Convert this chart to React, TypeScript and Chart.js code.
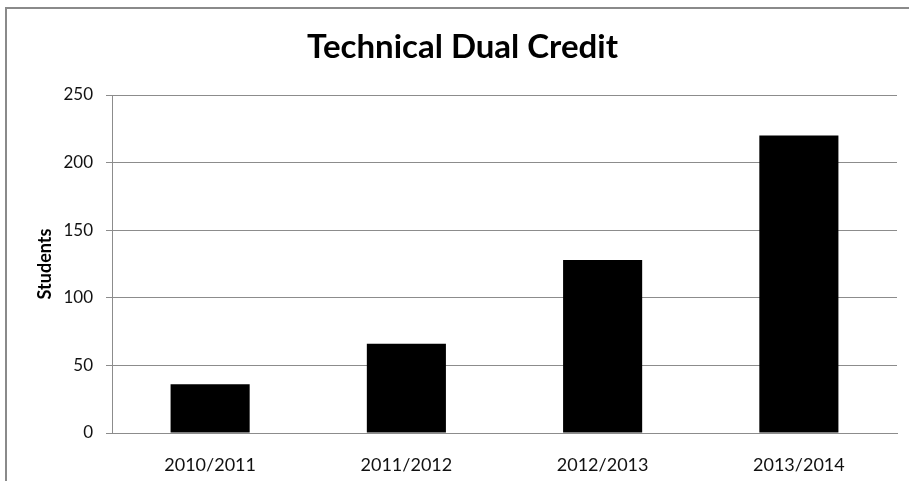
import React, { useEffect, useRef } from "react";
import { Chart, registerables } from "chart.js";

Chart.register(...registerables);

const categories = ["2010/2011", "2011/2012", "2012/2013", "2013/2014"];
const students = [36, 66, 128, 220];
const chartTitle = "Technical Dual Credit";
const yAxisTitle = "Students";
const yMin = 0;
const yMax = 250;
const yStep = 50;

const FONT = "Lato, 'Open Sans', sans-serif";

export default function App() {
  const canvasRef = useRef<HTMLCanvasElement | null>(null);

  useEffect(() => {
    if (!canvasRef.current) return;
    const chart = new Chart(canvasRef.current, {
      type: "bar",
      data: {
        labels: categories,
        datasets: [
          {
            label: yAxisTitle,
            data: students,
            backgroundColor: "#000000",
            borderWidth: 0,
            categoryPercentage: 1,
            barPercentage: 0.403,
          },
        ],
      },
      options: {
        responsive: false,
        animation: false,
        devicePixelRatio: 1,
        layout: { padding: { left: 28, right: 12, top: 0, bottom: 0 } },
        plugins: {
          legend: { display: false },
          tooltip: { enabled: false },
          title: {
            display: true,
            text: chartTitle,
            color: "#000000",
            font: { family: FONT, size: 33, weight: "bold" },
            padding: { top: 28, bottom: 27.4 },
          },
        },
        scales: {
          x: {
            grid: { display: false },
            border: { display: true, color: "#8c8c8c", width: 1 },
            ticks: {
              color: "#111111",
              font: { family: FONT, size: 18 },
              padding: 13,
              maxRotation: 0,
            },
            afterFit: (s: any) => {
              s.height = 48;
            },
          },
          y: {
            min: yMin,
            max: yMax,
            ticks: {
              stepSize: yStep,
              color: "#111111",
              font: { family: FONT, size: 17 },
              padding: 13,
            },
            grid: {
              color: "#8c8c8c",
              lineWidth: 1,
              tickLength: 6,
            },
            border: { display: true, color: "#8c8c8c", width: 1 },
            title: {
              display: true,
              text: yAxisTitle,
              color: "#000000",
              font: { family: FONT, size: 18, weight: "bold" },
              padding: { top: 6, bottom: 0 },
            },
            afterFit: (s: any) => {
              s.width = 84;
            },
          },
        },
      },
    });
    return () => chart.destroy();
  }, []);

  return (
    <div
      style={{
        position: "absolute",
        left: 0,
        top: 0,
        width: 909,
        height: 481,
        background: "#ffffff",
        overflow: "hidden",
      }}
    >
      <div
        style={{
          position: "absolute",
          left: 5,
          top: 7,
          width: 910,
          height: 480,
          borderTop: "2px solid #8a8a8a",
          borderLeft: "2px solid #8a8a8a",
        }}
      />
      <canvas
        ref={canvasRef}
        width={909}
        height={481}
        style={{ position: "absolute", left: 0, top: 0, width: 909, height: 481 }}
      />
    </div>
  );
}
